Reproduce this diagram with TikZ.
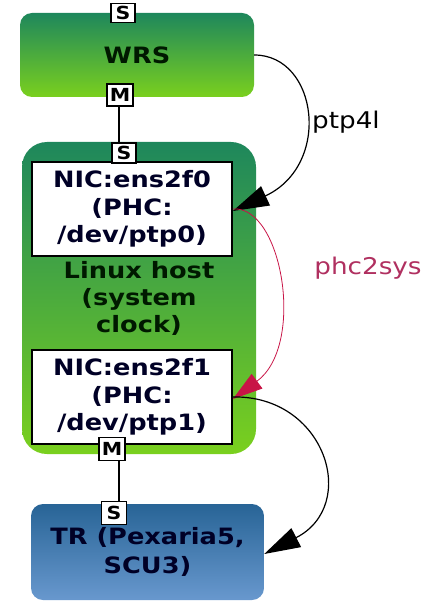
\documentclass[tikz,border=0pt]{standalone}
\usepackage{fontspec}
\setmainfont{DejaVu Sans}[FakeStretch=1.14]
\usetikzlibrary{arrows.meta}
\definecolor{gtop}{RGB}{30,135,92}
\definecolor{gbot}{RGB}{122,208,30}
\definecolor{btop}{RGB}{40,100,150}
\definecolor{bbot}{RGB}{104,152,206}
\definecolor{crim}{RGB}{200,20,70}
\definecolor{maroonx}{RGB}{176,48,96}
\tikzset{
  greenbox/.style={rounded corners=12pt, top color=gtop, bottom color=gbot, draw=none,
    font=\bfseries\fontsize{22.5}{27}\selectfont, align=center, inner sep=0pt, text=black!90!green},
  bluebox/.style={rounded corners=12pt, top color=btop, bottom color=bbot, draw=none,
    font=\bfseries\fontsize{22.5}{29}\selectfont, align=center, inner sep=0pt, text=black!85!blue},
  nicbox/.style={draw, line width=1.8pt, fill=white, minimum width=200pt, minimum height=94pt,
    font=\bfseries\fontsize{22.5}{27.5}\selectfont, align=center, inner sep=0pt, text=black!85!blue},
  port/.style={draw, line width=1.3pt, fill=white, inner sep=0pt, minimum width=24pt,
    minimum height=20pt, font=\bfseries\fontsize{18}{18}\selectfont},
  conn/.style={line width=1.2pt},
  bigtip/.style={-{Triangle[length=36pt,width=21pt]}},
  lbl/.style={font=\fontsize{23}{24}\selectfont}
}
\begin{document}
\begin{tikzpicture}[x=1pt,y=-1pt]
\useasboundingbox (0,0) rectangle (441,601);
% main boxes
\node[greenbox, minimum width=234pt, minimum height=84pt] (wrs) at (137,55) {WRS};
\node[greenbox, rounded corners=25pt, minimum width=234pt, minimum height=312pt] (host) at (139,298) {Linux host\\(system\\clock)};
\node[bluebox, minimum width=233pt, minimum height=96pt] (tr) at (147.5,552) {TR (Pexaria5,\\SCU3)};
\node[nicbox] (ens0) at (132,209) {NIC:ens2f0\\(PHC:\\/dev/ptp0)};
\node[nicbox] (ens1) at (132,397) {NIC:ens2f1\\(PHC:\\/dev/ptp1)};
% ports
\node[port, minimum height=19pt] (wrsS) at (123,13) {S};
\node[port, minimum width=26pt, minimum height=22pt] (wrsM) at (120,95) {M};
\node[port] (hostS) at (124,153) {S};
\node[port, minimum width=26pt, minimum height=23pt] (ens1M) at (112,449) {M};
\node[port, minimum width=25pt, minimum height=23pt] (trS) at (114,513) {S};
% port links
\draw[conn] ([xshift=-1pt]wrsM.south) -- ([xshift=-1pt]wrsM.south |- hostS.north);
\draw[conn] ([xshift=7pt]ens1M.south) -- ([xshift=7pt]ens1M.south |- trS.north);
% edges
\draw[conn, bigtip] (wrs.east) .. controls (318,55) and (332,165) .. ([yshift=-2pt]ens0.east);
\draw[line width=0.8pt, crim, -{Triangle[length=30pt,width=18pt]}] (ens0.east) .. controls (282,205) and (306,345) .. ([yshift=-2pt]ens1.east);
\draw[conn, bigtip] (ens1.east) .. controls (325,395) and (360,505) .. ([yshift=-2pt]tr.east);
% labels
\node[lbl] (l1) at (346,122) {ptp4l};
\node[lbl, text=maroonx] (l2) at (368,268) {phc2sys};
\end{tikzpicture}
\end{document}
